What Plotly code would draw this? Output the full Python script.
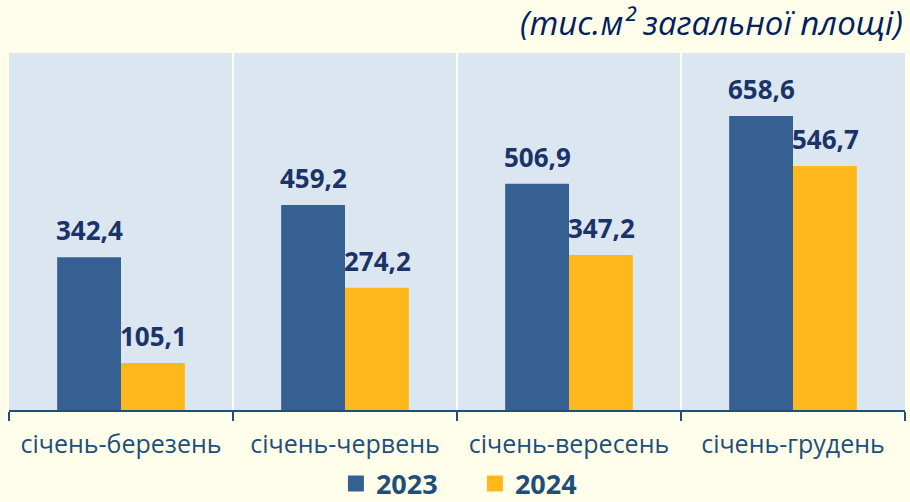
import plotly.graph_objects as go

categories = ["січень-березень", "січень-червень", "січень-вересень", "січень-грудень"]
values_2023 = [342.4, 459.2, 506.9, 658.6]
values_2024 = [105.1, 274.2, 347.2, 546.7]
series_names = ["2023", "2024"]
colors = ["#376092", "#FFB81C"]

fmt = lambda v: f"{v:.1f}".replace(".", ",")

fig = go.Figure()
for name, vals, col in zip(series_names, [values_2023, values_2024], colors):
    fig.add_trace(go.Bar(x=categories, y=vals, name=name, marker_color=col,
                         marker_line_width=0, hoverinfo="skip", showlegend=False))
# legend entries with larger square markers
for name, col in zip(series_names, colors):
    fig.add_trace(go.Scatter(x=[None], y=[None], mode="markers", name=name,
                             marker=dict(symbol="square", size=18, color=col),
                             showlegend=True))

annotations = []
for vals, shift in [(values_2023, -32), (values_2024, 32)]:
    for c, v in zip(categories, vals):
        annotations.append(dict(x=c, y=v, xref="x", yref="y", text=fmt(v),
                                showarrow=False, xshift=shift, yshift=7,
                                yanchor="bottom",
                                font=dict(family="Open Sans", size=26, color="#1A3368",
                                          weight="bold")))
annotations.append(dict(x=1, y=1.0, xref="paper", yref="paper", xanchor="right",
                        yanchor="bottom", yshift=6,
                        text="(тис.м² загальної площі)", showarrow=False,
                        font=dict(family="Open Sans", size=33, color="#002060",
                                  style="italic")))

shapes = []
for i in range(1, len(categories)):
    shapes.append(dict(type="line", xref="x", yref="paper", x0=i - 0.5, x1=i - 0.5,
                       y0=0, y1=1, line=dict(color="white", width=2), layer="below"))

fig.update_layout(
    width=910, height=502,
    margin=dict(l=9, r=5, t=53, b=92, autoexpand=False),
    paper_bgcolor="#FFFEEB",
    plot_bgcolor="#DCE6F1",
    barmode="group", bargap=0.43, bargroupgap=0,
    showlegend=True,
    legend=dict(orientation="h", x=0.52, xanchor="center", y=-0.276, yanchor="bottom",
                font=dict(family="Open Sans", size=27, color="#1F4E79", weight="bold"),
                bgcolor="rgba(0,0,0,0)", itemsizing="trace", entrywidth=94),
    annotations=annotations, shapes=shapes,
    xaxis=dict(showgrid=False, showline=True, linecolor="#1F4E79", linewidth=1.5,
               ticks="outside", tickson="boundaries", ticklen=9, tickcolor="#1F4E79",
               tickwidth=1.5, automargin=False, ticklabelstandoff=11,
               tickfont=dict(family="Open Sans", size=25, color="#1F4E79")),
    yaxis=dict(range=[0, 800], visible=False, showgrid=False),
)

fig.write_html("out.html", config={"displayModeBar": False},
               post_script="document.body.style.margin='0';"
                           "document.body.style.background='#FFFEEB';")
